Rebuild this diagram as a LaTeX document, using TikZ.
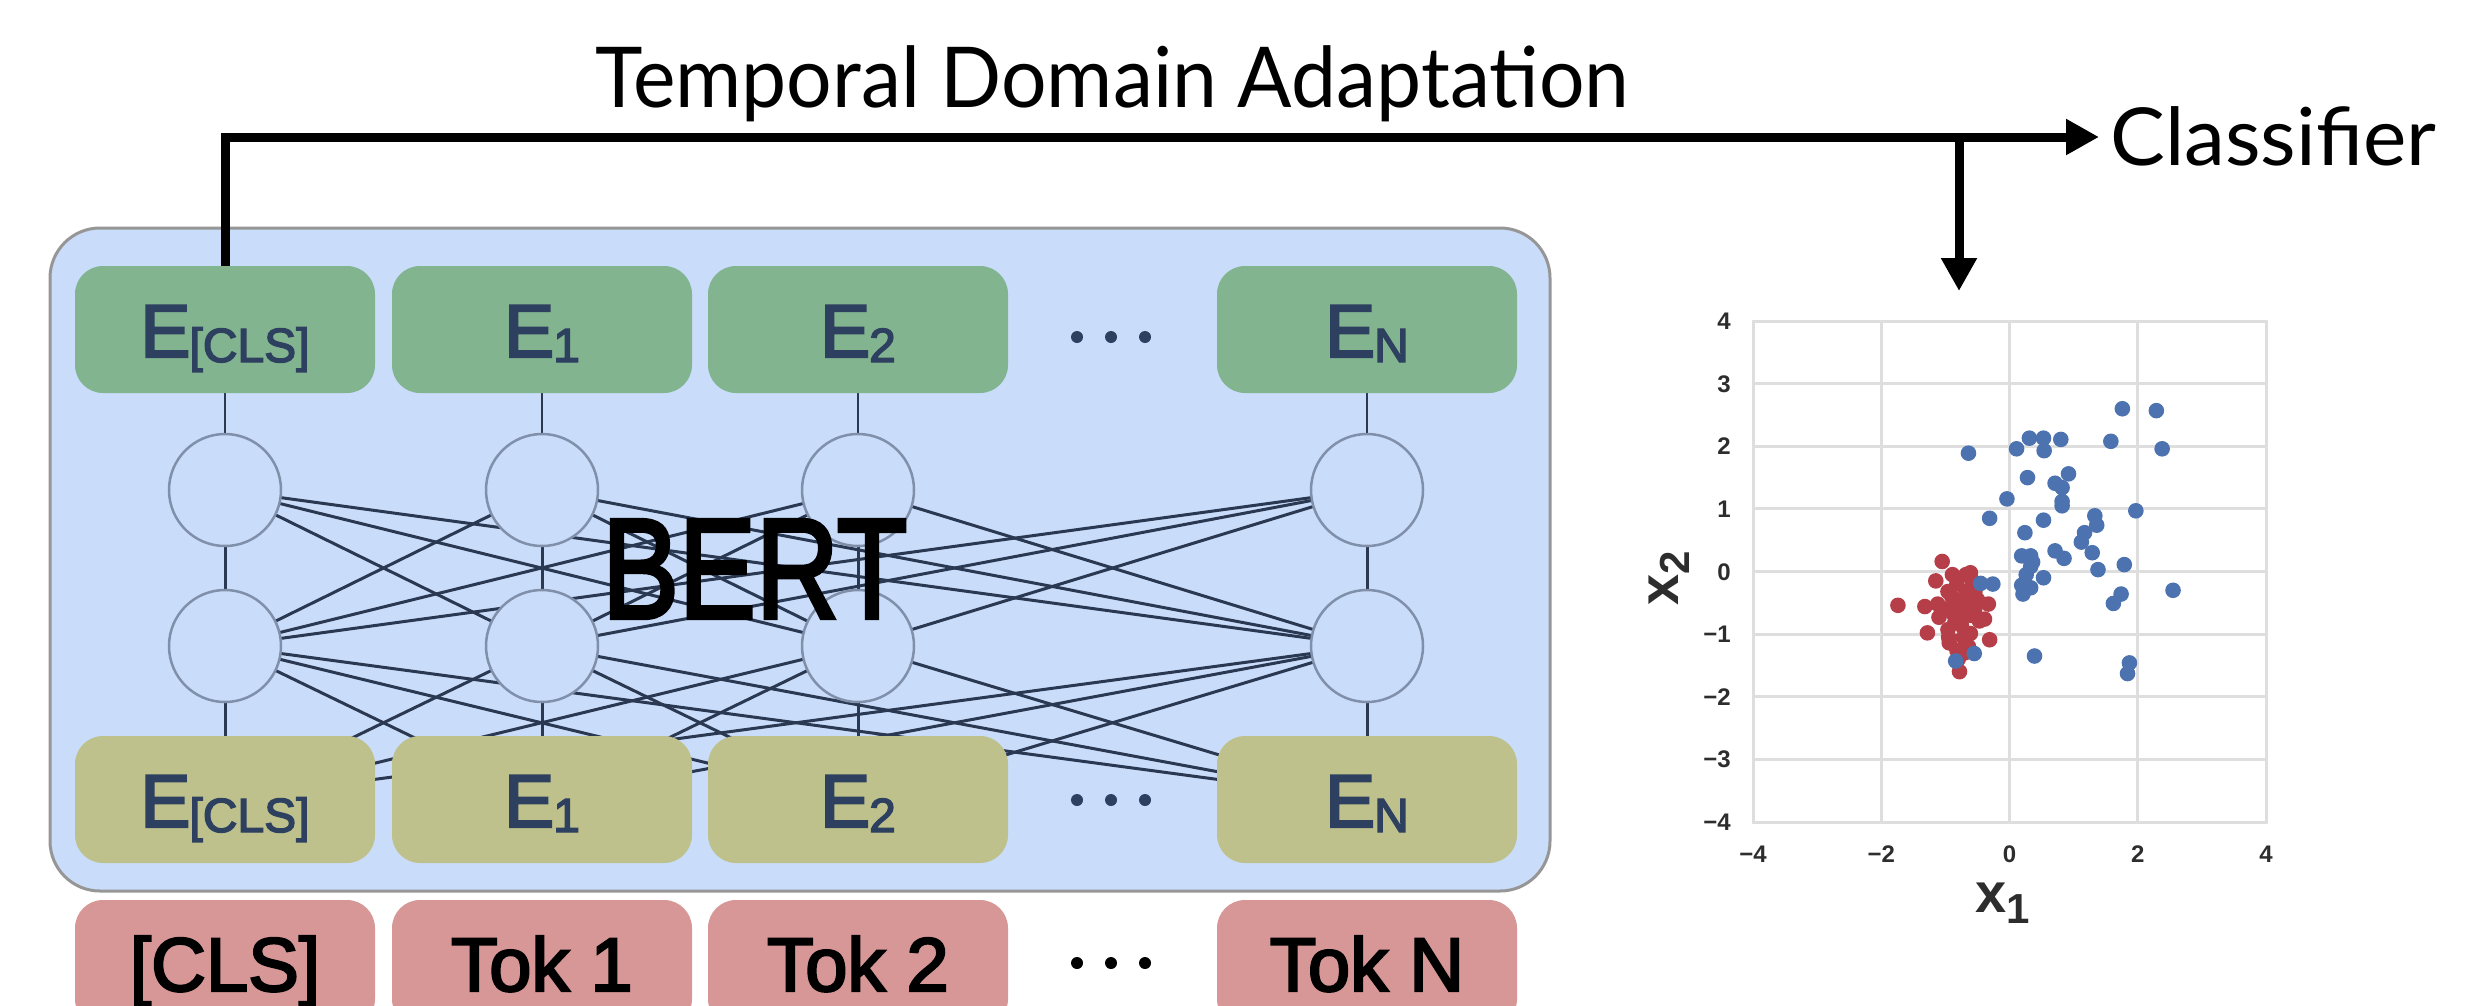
\documentclass[tikz,border=0pt]{standalone}
\usepackage{fontspec}
\usepackage{graphicx}
\usetikzlibrary{arrows.meta}
\newfontfamily\arialf{Liberation Sans}
\newfontfamily\arialm[FakeBold=3]{Liberation Sans}
\newfontfamily\gillf{Lato}
\definecolor{bertbg}{RGB}{201,221,250}
\definecolor{bertedge}{RGB}{150,150,150}
\definecolor{boxgreen}{RGB}{130,180,143}
\definecolor{boxolive}{RGB}{190,193,139}
\definecolor{boxpink}{RGB}{216,151,151}
\definecolor{navy}{RGB}{46,64,96}
\definecolor{wirec}{RGB}{42,56,82}
\definecolor{neuronedge}{RGB}{128,143,170}
\definecolor{gridc}{RGB}{222,222,222}
\definecolor{tickc}{RGB}{45,45,45}
\definecolor{ptblue}{RGB}{76,114,176}
\definecolor{ptred}{RGB}{182,62,72}
\pgfdeclarelayer{bglow}
\pgfdeclarelayer{bgwire}
\pgfsetlayers{bglow,bgwire,main}
\newcommand{\elab}[1]{{\arialm\fontsize{75}{75}\selectfont E\kern-1pt\raisebox{-5pt}{\fontsize{48}{48}\selectfont #1}}}
\newcommand{\toklab}[1]{{\arialm\fontsize{76}{76}\selectfont #1}}
\newcommand{\axlab}[1]{{\arialf\bfseries\fontsize{56}{56}\selectfont x\raisebox{-11pt}{\fontsize{42}{42}\selectfont #1}}}
\begin{document}
\begin{tikzpicture}[x=1pt,y=-1pt,
  bertbox/.style={draw=bertedge, line width=3pt, fill=bertbg, rounded corners=50pt,
    minimum width=1500pt, minimum height=663pt, inner sep=0pt},
  ebox/.style={rounded corners=28pt, minimum width=300pt, minimum height=127pt,
    inner sep=0pt, text=navy, text height=55pt, text depth=0pt},
  topbox/.style={ebox, fill=boxgreen},
  botbox/.style={ebox, fill=boxolive},
  tokbox/.style={ebox, fill=boxpink, text=black},
  neuron/.style={circle, minimum size=112pt, inner sep=0pt, draw=neuronedge,
    line width=2.5pt, fill=bertbg},
  wire/.style={draw=wirec, line width=3pt},
  bigarrow/.style={line width=9pt, line join=miter, -{Triangle[length=33pt,width=34pt]}},
  gridline/.style={draw=gridc, line width=3pt},
  ticklab/.style={inner sep=0pt, text=tickc, font=\arialf\bfseries\fontsize{24}{24}\selectfont},
  plain/.style={inner sep=0pt, anchor=base west}
]
\useasboundingbox (0,0) rectangle (2476,1005);
\clip (0,0) rectangle (2476,1005);

% BERT container
\begin{pgfonlayer}{bglow}
\node[bertbox] (bert) at (800,559.5) {};
\end{pgfonlayer}

% columns
\foreach \x/\sub/\tok [count=\i from 0] in {225/{[CLS]}/{[CLS]}, 542/1/{Tok 1}, 858/2/{Tok 2}, 1367/N/{Tok N}}{
  \node[topbox] (t\i) at (\x,329.5) {\elab{\sub}};
  \node[botbox] (b\i) at (\x,799.5) {\elab{\sub}};
  \node[tokbox] (k\i) at (\x,963.5) {\toklab{\tok}};
  \node[neuron] (na\i) at (\x,490) {};
  \node[neuron] (nb\i) at (\x,646) {};
}

% wires
\begin{pgfonlayer}{bgwire}
\foreach \i in {0,...,3}{
  \draw[wire, line width=2.4pt] (t\i.center) -- (na\i.center);
  \foreach \j in {0,...,3}{
    \draw[wire] (na\i.center) -- (nb\j.center);
    \draw[wire] (nb\i.center) -- (b\j.center);
  }
}
\end{pgfonlayer}

% ellipsis dots
\foreach \yy/\cc in {337/navy, 800/navy, 963/black}
  \foreach \dx in {-34,0,34}
    \fill[\cc] ({1111+\dx},\yy) circle[radius=6pt];

% BERT label
\node[plain] (berttxt) at (602,618) {\resizebox{305pt}{98pt}{\arialm\fontsize{133}{133}\selectfont BERT}};

% title and classifier
\node[plain] (title) at (595,107) {\resizebox{1034pt}{\height}{\gillf\fontsize{84}{84}\selectfont Temporal Domain Adaptation}};
\node[plain] (clf) at (2110,165) {\resizebox{326pt}{\height}{\gillf\fontsize{80}{80}\selectfont Classifier}};

\coordinate (tip) at (2099,137);
\coordinate (branch) at (1959,137);
\coordinate (plotin) at (1959,291);
\draw[bigarrow] (t0.north) |- (tip);
\draw[bigarrow] (branch) -- (plotin);

% scatter plot
\begin{scope}[shift={(2009.5,571.5)}, x=64.125pt, y=62.6pt]
  \foreach \g in {-3,...,3} \draw[gridline] (-4,\g) -- (4,\g);
  \foreach \g in {-2,0,2} \draw[gridline] (\g,-4) -- (\g,4);
\end{scope}
\node[draw=gridc, line width=3pt, minimum width=513pt, minimum height=501pt, inner sep=0pt] (plot) at (2009.5,571.5) {};
\begin{scope}[shift={(2009.5,571.5)}, x=64.125pt, y=62.6pt]
  \foreach \px/\py in {-1.05/0.16,-1.15/-0.15,-0.89/-0.05,-0.61/-0.02,-0.68/-0.05,-1.74/-0.54,
    -1.32/-0.56,-1.12/-0.52,-0.33/-0.52,-0.39/-0.76,-1.28/-0.98,-0.31/-1.09,-0.94/-1.14,
    -0.78/-1.60,-0.96/-0.93,-0.61/-0.99,-0.82/-0.46,-0.71/-0.66,-0.89/-0.66,-0.54/-0.59,
    -0.68/-0.32,-0.96/-0.32,-0.82/-0.19,-0.54/-0.32,-0.75/-0.86,-1.10/-0.73,-0.47/-0.79,
    -0.64/-1.20,-0.82/-1.26,-0.90/-0.40,-1.00/-0.60,-0.70/-0.45,-0.60/-0.70,-0.85/-0.80,
    -0.95/-1.05,-0.72/-1.05,-0.50/-0.45,-0.58/-0.15,-0.80/-1.40,-0.70/-1.30}
    \fill[ptred] (\px,\py) circle[radius=7.8pt];
  \foreach \px/\py in {1.76/2.60,2.29/2.57,0.31/2.13,0.53/2.13,0.80/2.11,1.58/2.08,-0.64/1.89,
    0.11/1.96,0.54/1.93,2.38/1.96,0.28/1.50,0.92/1.56,0.71/1.41,0.82/1.34,-0.04/1.16,0.82/1.12,
    0.82/1.05,1.97/0.97,-0.31/0.85,0.53/0.82,1.33/0.89,1.36/0.74,0.24/0.62,1.17/0.62,1.12/0.47,
    0.71/0.33,0.85/0.21,1.29/0.30,0.19/0.25,0.33/0.25,0.36/0.15,1.79/0.11,1.38/0.03,0.33/0.08,
    0.26/-0.05,0.53/-0.10,0.19/-0.22,0.33/-0.26,0.21/-0.36,2.55/-0.30,1.74/-0.36,1.62/-0.51,
    -0.45/-0.19,-0.26/-0.20,-0.55/-1.31,-0.84/-1.43,0.39/-1.35,1.87/-1.46,1.84/-1.63}
    \fill[ptblue] (\px,\py) circle[radius=7.8pt];
\end{scope}

% tick labels
\foreach \v/\lab [count=\i] in {4/4,3/3,2/2,1/1,0/0,-1/−1,-2/−2,-3/−3,-4/−4}
  \node[ticklab, anchor=base east] (yt\i) at (1731,{571.5-62.6*\v+8.5}) {\lab};
\foreach \v/\lab [count=\i] in {-4/−4,-2/−2,0/0,2/2,4/4}
  \node[ticklab, anchor=base] (xt\i) at ({2009.5+64.125*\v},862) {\lab};

% axis labels
\node[plain, text=tickc] (xlab) at (1975,912) {\axlab{1}};
\node[plain, text=tickc, rotate=90] (ylab) at (1678,606) {\axlab{2}};
\end{tikzpicture}
\end{document}
